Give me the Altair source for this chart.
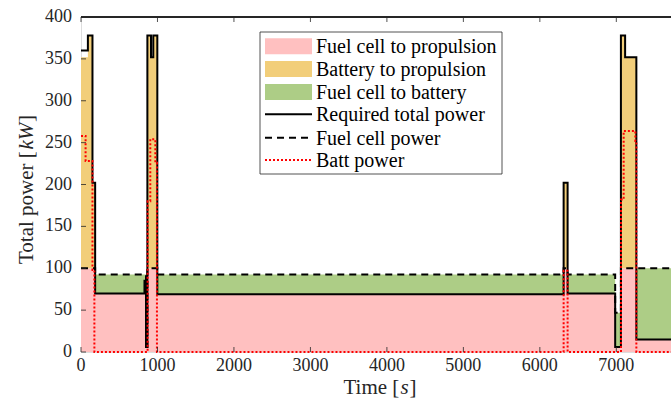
import altair as alt
import pandas as pd

# Power-flow time series, piecewise constant: each value holds from its start time
seg_start = [0, 90, 150, 185, 830, 850, 868, 915, 945, 998, 6311, 6363, 6985, 7060, 7115, 7262]
req_kw = [360, 378, 202, 70, 85, 6, 378, 352, 378, 69, 202, 70, 6, 378, 352, 15]
fc_prop_kw = [100, 100, 100, 70, 85, 6, 100, 100, 100, 69, 100, 70, 6, 100, 100, 15]
batt_prop_kw = [252, 278, 102, 0, 0, 0, 278, 252, 278, 0, 102, 0, 0, 278, 252, 0]
fc_batt_kw = [0, 0, 0, 22.5, 7.5, 0, 0, 0, 0, 23.5, 0, 22.5, 41, 0, 0, 85]

# Battery power has its own switching instants
batt_start = [0, 60, 150, 175, 871, 906, 972, 993, 6311, 6363, 7061, 7096, 7249, 7262]
batt_kw = [258, 228, 98, 0, 180, 254, 226, 0, 97, 0, 182, 264, 252, 0]

T_END = 7715
x_ticks = [0, 1000, 2000, 3000, 4000, 5000, 6000, 7000]
y_ticks = [0, 50, 100, 150, 200, 250, 300, 350, 400]

W, H = 590, 335
FONT = "Liberation Serif"
AX = "#262626"

rows = []
for i, t in enumerate(seg_start + [T_END]):
    j = min(i, len(seg_start) - 1)
    fp, bp, fb = fc_prop_kw[j], batt_prop_kw[j], fc_batt_kw[j]
    rows.append(dict(t=t, req=req_kw[j], base=0, fc_prop=fp,
                     yel_top=fp + bp, grn_top=fp + fb, fc=fp + fb))
df = pd.DataFrame(rows)

brows = [dict(t=t, batt=v) for t, v in zip(batt_start, batt_kw)]
brows.append(dict(t=T_END, batt=batt_kw[-1]))
dfb = pd.DataFrame(brows)

xs = alt.Scale(domain=[0, T_END], nice=False, zero=False)
ys = alt.Scale(domain=[0, 400], nice=False)

# Axis lines only; tick marks and labels are drawn as layers below
x_axis = alt.Axis(values=x_ticks, grid=False, ticks=False, labels=False,
                  domainColor=AX, title=None)
y_axis = alt.Axis(values=y_ticks, grid=False, ticks=False, labels=False,
                  domainColor=AX, title=None)

base = alt.Chart(df)

pink = base.mark_area(interpolate="step-after", color="#FFC0C0", opacity=1).encode(
    x=alt.X("t:Q", scale=xs, axis=x_axis),
    y=alt.Y("fc_prop:Q", scale=ys, axis=y_axis),
    y2="base:Q")
yellow = base.mark_area(interpolate="step-after", color="#F2CE7A", opacity=1).encode(
    x=alt.X("t:Q", scale=xs, axis=None),
    y=alt.Y("yel_top:Q", scale=ys, axis=None),
    y2="fc_prop:Q")
green = base.mark_area(interpolate="step-after", color="#ADCD86", opacity=1).encode(
    x=alt.X("t:Q", scale=xs, axis=None),
    y=alt.Y("grn_top:Q", scale=ys, axis=None),
    y2="fc_prop:Q")

req_line = base.mark_line(interpolate="step-after", color="#000000", strokeWidth=2).encode(
    x=alt.X("t:Q", scale=xs, axis=None),
    y=alt.Y("req:Q", scale=ys, axis=None))
fc_line = base.mark_line(interpolate="step-after", color="#000000", strokeWidth=2,
                         strokeDash=[7, 5]).encode(
    x=alt.X("t:Q", scale=xs, axis=None),
    y=alt.Y("fc:Q", scale=ys, axis=None))
batt_line = alt.Chart(dfb).mark_line(interpolate="step-after", color="#FF0000",
                                     strokeWidth=2, strokeDash=[2, 2]).encode(
    x=alt.X("t:Q", scale=xs, axis=None),
    y=alt.Y("batt:Q", scale=ys, axis=None))

# Inward-pointing ticks, tick labels and the top frame line
xt = pd.DataFrame({"t": x_ticks, "lab": [str(v) for v in x_ticks]})
yt = pd.DataFrame({"v": y_ticks, "lab": [str(v) for v in y_ticks]})
tick_bottom = alt.Chart(xt).mark_rule(color=AX, strokeWidth=0.8).encode(
    x=alt.X("t:Q", scale=xs, axis=None), y=alt.value(H), y2=alt.value(H - 5))
tick_top = alt.Chart(xt).mark_rule(color=AX, strokeWidth=0.8).encode(
    x=alt.X("t:Q", scale=xs, axis=None), y=alt.value(0), y2=alt.value(5))
tick_left = alt.Chart(yt).mark_rule(color=AX, strokeWidth=0.8).encode(
    y=alt.Y("v:Q", scale=ys, axis=None), x=alt.value(0), x2=alt.value(5))
top_frame = alt.Chart(xt).mark_rule(color=AX, strokeWidth=1).encode(
    x=alt.value(0), x2=alt.value(W + 2), y=alt.value(0))
xlab = alt.Chart(xt).mark_text(font=FONT, fontSize=18, color=AX, align="center",
                               baseline="middle").encode(
    x=alt.X("t:Q", scale=xs, axis=None), y=alt.value(H + 14), text="lab:N")
ylab = alt.Chart(yt).mark_text(font=FONT, fontSize=18, color=AX, align="right",
                               baseline="middle").encode(
    y=alt.Y("v:Q", scale=ys, axis=None), x=alt.value(-9), text="lab:N")

one = pd.DataFrame({"k": [0]})


def txt(s, x, y, size=21, style="normal", angle=0, align="left"):
    return alt.Chart(one).mark_text(
        font=FONT, fontSize=size, fontStyle=style, color=AX, align=align,
        baseline="middle", angle=angle).encode(
        x=alt.value(x), y=alt.value(y), text=alt.value(s))


# Axis titles, with the units set in italics
titles = [
    txt("Total power [", -54, 247, angle=270),
    txt("kW", -54, 132.5, style="italic", angle=270),
    txt("]", -54, 105, angle=270),
    txt("Time [", 262.5, 371),
    txt("s", 319.5, 371, style="italic"),
    txt("]", 328.5, 371),
]

# Legend box
LX0, LX1, LY0, LY1 = 179, 421, 15, 157
legend_layers = [
    alt.Chart(one).mark_rect(fill="white", stroke=AX, strokeWidth=0.8).encode(
        x=alt.value(LX0), x2=alt.value(LX1), y=alt.value(LY0), y2=alt.value(LY1))
]
leg_labels = ["Fuel cell to propulsion", "Battery to propulsion", "Fuel cell to battery",
              "Required total power", "Fuel cell power", "Batt power"]
leg_rows = [29.3, 52, 75, 97.3, 120.7, 143]
swatch_colors = ["#FFC0C0", "#F2CE7A", "#ADCD86"]
for i, c in enumerate(swatch_colors):
    r = leg_rows[i]
    legend_layers.append(alt.Chart(one).mark_rect(fill=c).encode(
        x=alt.value(184), x2=alt.value(231), y=alt.value(r - 8), y2=alt.value(r + 8)))
line_styles = [("#000000", [1, 0]), ("#000000", [7, 5]), ("#FF0000", [2, 2])]
for i, (c, d) in enumerate(line_styles):
    r = leg_rows[3 + i]
    legend_layers.append(alt.Chart(one).mark_rule(color=c, strokeWidth=2, strokeDash=d).encode(
        x=alt.value(184), x2=alt.value(231), y=alt.value(r)))
for lab, r in zip(leg_labels, leg_rows):
    legend_layers.append(alt.Chart(one).mark_text(
        font=FONT, fontSize=20, color="#000000", align="left", baseline="middle").encode(
        x=alt.value(235), y=alt.value(r + 1), text=alt.value(lab)))

chart = alt.layer(
    pink, yellow, green, req_line, fc_line, batt_line,
    tick_bottom, tick_top, tick_left, top_frame, xlab, ylab, *titles, *legend_layers
).properties(
    width=W, height=H,
    autosize="none",
    padding={"left": 81, "top": 17, "right": 0, "bottom": 52},
).configure_view(stroke=None).configure(background="white")

chart.save("out.html", embed_options={"renderer": "svg", "actions": False})
